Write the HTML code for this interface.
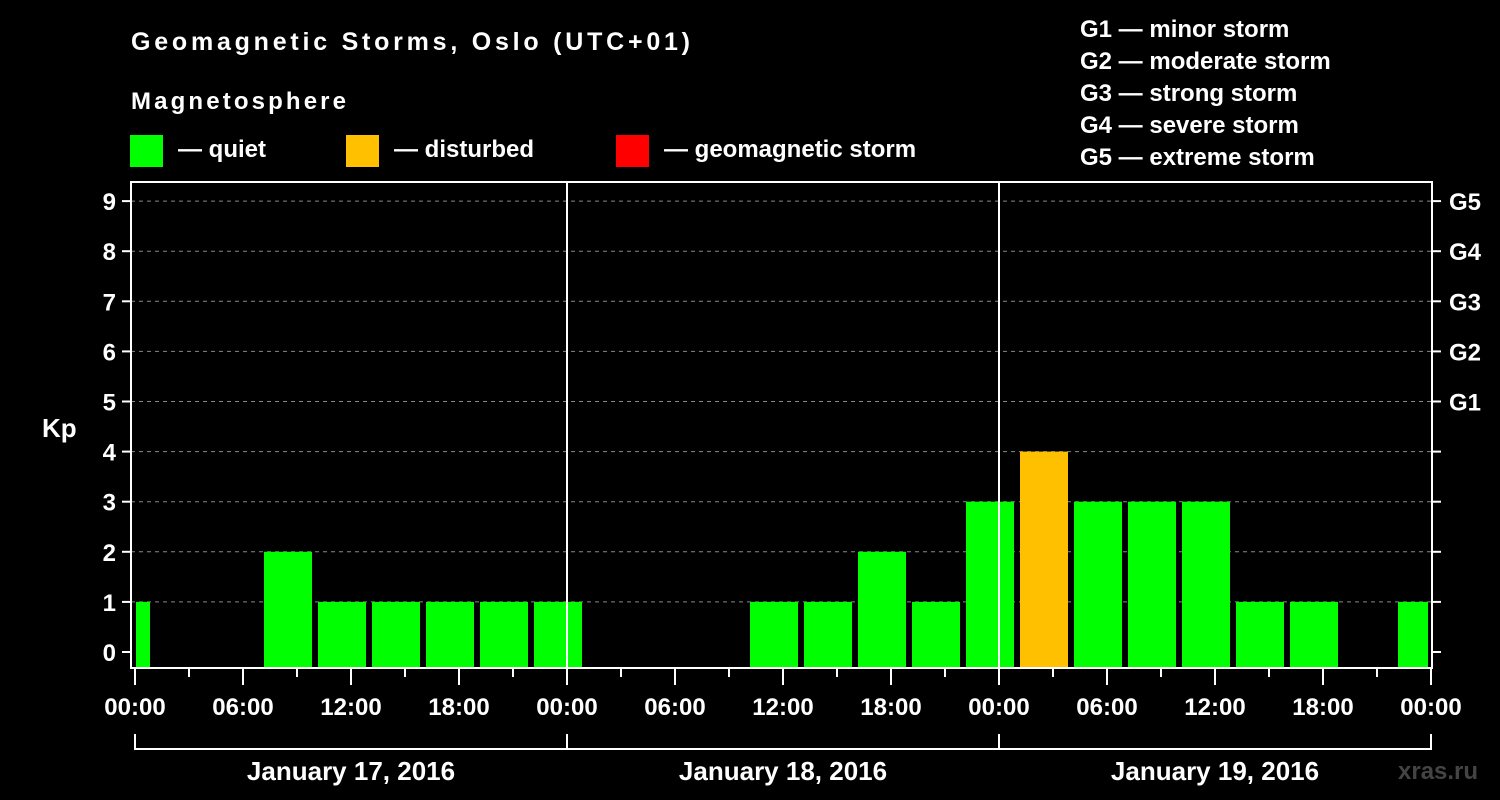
<!DOCTYPE html>
<html><head><meta charset="utf-8"><style>
html,body{margin:0;padding:0;background:#000;}
svg{display:block;font-family:"Liberation Sans",Arial,sans-serif;font-weight:bold;}
</style></head><body>
<svg id="chart" width="1500" height="800" viewBox="0 0 1500 800" xmlns="http://www.w3.org/2000/svg">
<rect width="1500" height="800" fill="#000"/>
<text x="131" y="50" fill="#fff" font-size="25" textLength="559">Geomagnetic Storms, Oslo (UTC+01)</text>
<text x="131" y="109" fill="#fff" font-size="24" textLength="215">Magnetosphere</text>
<g><rect x="130" y="135" width="33" height="32" fill="#00ff00"/><text x="178" y="157" fill="#fff" font-size="24">— quiet</text></g>
<g><rect x="346" y="135" width="33" height="32" fill="#ffc000"/><text x="394" y="157" fill="#fff" font-size="24">— disturbed</text></g>
<g><rect x="616" y="135" width="33" height="32" fill="#ff0000"/><text x="664" y="157" fill="#fff" font-size="24">— geomagnetic storm</text></g>
<g fill="#fff" font-size="24">
<text x="1080" y="37">G1 — minor storm</text>
<text x="1080" y="69">G2 — moderate storm</text>
<text x="1080" y="101">G3 — strong storm</text>
<text x="1080" y="133">G4 — severe storm</text>
<text x="1080" y="165">G5 — extreme storm</text>
</g>
<text x="42" y="437" fill="#fff" font-size="26">Kp</text>
<text x="1398" y="779" fill="#444" font-size="24">xras.ru</text>
<defs><clipPath id="plotclip"><rect x="136" y="182" width="1292" height="486"/></clipPath></defs>
<g id="grid"></g>
<g id="bars" clip-path="url(#plotclip)"></g>
<g id="axes"></g>
</svg>
<script>
const hours = [-0.5,2.5,5.5,8.5,11.5,14.5,17.5,20.5,23.5,26.5,29.5,32.5,35.5,38.5,41.5,44.5,47.5,50.5,53.5,56.5,59.5,62.5,65.5,68.5,71.5];
const kpValues = [1,0,0,2,1,1,1,1,1,0,0,0,1,1,2,1,3,4,3,3,3,1,1,0,1];
const yTicks = [0,1,2,3,4,5,6,7,8,9];
const gLabels = ["G1","G2","G3","G4","G5"];
const gLevels = [5,6,7,8,9];
const xTickHours = [0,6,12,18,24,30,36,42,48,54,60,66,72];
const xTickLabels = ["00:00","06:00","12:00","18:00","00:00","06:00","12:00","18:00","00:00","06:00","12:00","18:00","00:00"];
const dayLabels = ["January 17, 2016","January 18, 2016","January 19, 2016"];

const NS="http://www.w3.org/2000/svg";
const X0=135, PXH=18, Y0=652, PXK=50.1, BOT=668, TOP=182, LEFT=131, RIGHT=1432;
const xs=h=>X0+h*PXH;
const ys=k=>Y0-k*PXK;
function mk(tag,attrs,parent){const e=document.createElementNS(NS,tag);for(const k in attrs)e.setAttribute(k,attrs[k]);parent.appendChild(e);return e;}
const grid=document.getElementById('grid'),bars=document.getElementById('bars'),axes=document.getElementById('axes');

yTicks.forEach(k=>{
  if(k>0){const l=mk('line',{x1:LEFT,x2:RIGHT,y1:ys(k),y2:ys(k),stroke:'#888','stroke-width':1,'stroke-dasharray':'4,4'},grid);
  
  }
  const t=mk('line',{x1:LEFT-9,x2:LEFT,y1:ys(k),y2:ys(k),stroke:'#fff','stroke-width':2},axes);
  
  
  const t2=mk('line',{x1:RIGHT,x2:RIGHT+9,y1:ys(k),y2:ys(k),stroke:'#fff','stroke-width':2},axes);
  
  
  const tx=mk('text',{x:LEFT-15,y:ys(k)+9,fill:'#fff','font-size':24,'text-anchor':'end'},axes);
  tx.textContent=k;
  
  
});
gLevels.forEach((k,i)=>{
  const tx=mk('text',{x:RIGHT+17,y:ys(k)+9,fill:'#fff','font-size':24},axes);
  tx.textContent=gLabels[i];
  
  
});
hours.forEach((h,i)=>{
  const v=kpValues[i]; if(v<=0) return;
  const c=v>=5?'#ff0000':(v>=4?'#ffc000':'#00ff00');
  const r=mk('rect',{x:xs(h)-24,y:ys(v),width:48,height:BOT-ys(v),fill:c},bars);
  
  
});
// frame
const fr=mk('rect',{x:LEFT,y:TOP,width:RIGHT-LEFT,height:BOT-TOP,fill:'none',stroke:'#fff','stroke-width':2},axes);


[24,48].forEach(h=>{
  const l=mk('line',{x1:xs(h),x2:xs(h),y1:TOP,y2:BOT,stroke:'#fff','stroke-width':2},axes);
  
  
});
for(let h=0;h<=72;h+=3){
  const major=h%6===0;
  const l=mk('line',{x1:xs(h),x2:xs(h),y1:BOT,y2:BOT+(major?17:9),stroke:'#fff','stroke-width':2},axes);
  
  
}
xTickHours.forEach((h,i)=>{
  const tx=mk('text',{x:xs(h),y:715,fill:'#fff','font-size':24,'text-anchor':'middle'},axes);
  tx.textContent=xTickLabels[i];
  
  
});
const br=mk('path',{d:`M${xs(0)},734 V749 H${xs(72)} V734 M${xs(24)},734 V749 M${xs(48)},734 V749`,fill:'none',stroke:'#fff','stroke-width':2},axes);


dayLabels.forEach((d,i)=>{
  const tx=mk('text',{x:xs(i*24+12),y:780,fill:'#fff','font-size':26,'text-anchor':'middle'},axes);
  tx.textContent=d;
  
  
});
</script>
</body></html>
